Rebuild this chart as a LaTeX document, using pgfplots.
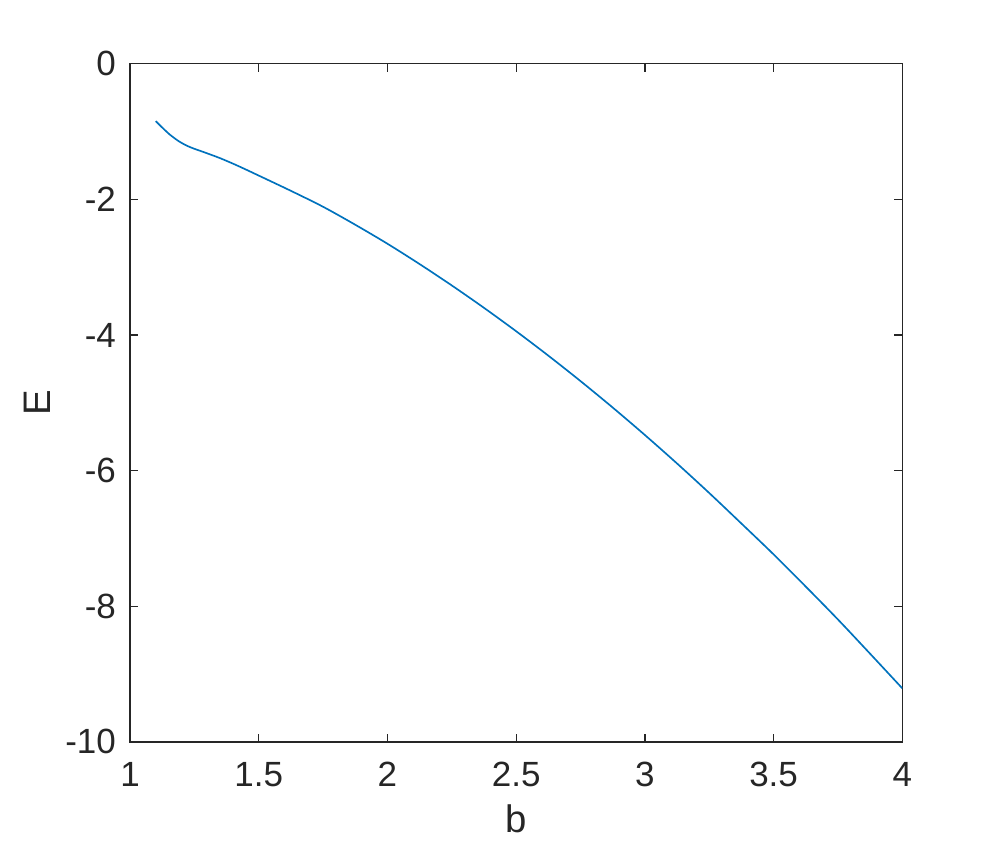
\documentclass[border=0pt]{standalone}
\usepackage{fontspec}
\setmainfont{Liberation Sans}
\usepackage{pgfplots}
\pgfplotsset{compat=1.18}
\definecolor{mlblue}{HTML}{0072BD}
\definecolor{mlaxis}{HTML}{262626}

\begin{document}
\begin{tikzpicture}
\begin{axis}[
  name=ax,
  scale only axis,
  width=231.6pt,height=203.4pt,
  xmin=1,xmax=4,ymin=-10,ymax=0,
  xtick={1,1.5,...,4},ytick={-10,-8,...,0},
  xticklabels={1,1.5,2,2.5,3,3.5,4},
  yticklabels={-10,-8,-6,-4,-2,0},
  tick align=inside,tick pos=both,
  major tick length=2.4pt,
  axis line style={mlaxis,line width=0.4pt},
  tick style={mlaxis,line width=0.4pt},
  /pgf/number format/assume math mode=true,
  tick label style={font=\fontsize{10.5}{12}\selectfont,color=mlaxis},
  xticklabel style={yshift=-2.6pt},
  yticklabel style={xshift=-0.7pt},
  label style={font=\fontsize{11.5}{13}\selectfont,color=mlaxis},
  xlabel={b},ylabel={E},
  xlabel style={yshift=1.5pt},
  ylabel style={yshift=-2.5pt},
]
\addplot[mlblue,line width=0.5pt,smooth] coordinates {
  (1.100,-0.847)(1.115,-0.904)(1.130,-0.960)(1.156,-1.050)(1.190,-1.145)
  (1.221,-1.210)(1.250,-1.255)(1.285,-1.302)(1.351,-1.395)(1.420,-1.508)
  (1.5,-1.65)(1.625,-1.875)(1.75,-2.11)(1.875,-2.375)(2.0,-2.655)
  (2.125,-2.955)(2.25,-3.27)(2.375,-3.60)(2.5,-3.945)(2.625,-4.305)
  (2.75,-4.68)(2.875,-5.07)(3.0,-5.475)(3.125,-5.895)(3.25,-6.33)
  (3.375,-6.78)(3.5,-7.235)(3.625,-7.71)(3.75,-8.195)(3.875,-8.70)
  (4.0,-9.21)
};
\end{axis}
\path (ax.south west) ++(-39pt,-31.6pt) coordinate (bl);
\path (ax.north east) ++(28.4pt,19.1pt) coordinate (tr);
\path (bl) rectangle (tr);
\end{tikzpicture}
\end{document}
